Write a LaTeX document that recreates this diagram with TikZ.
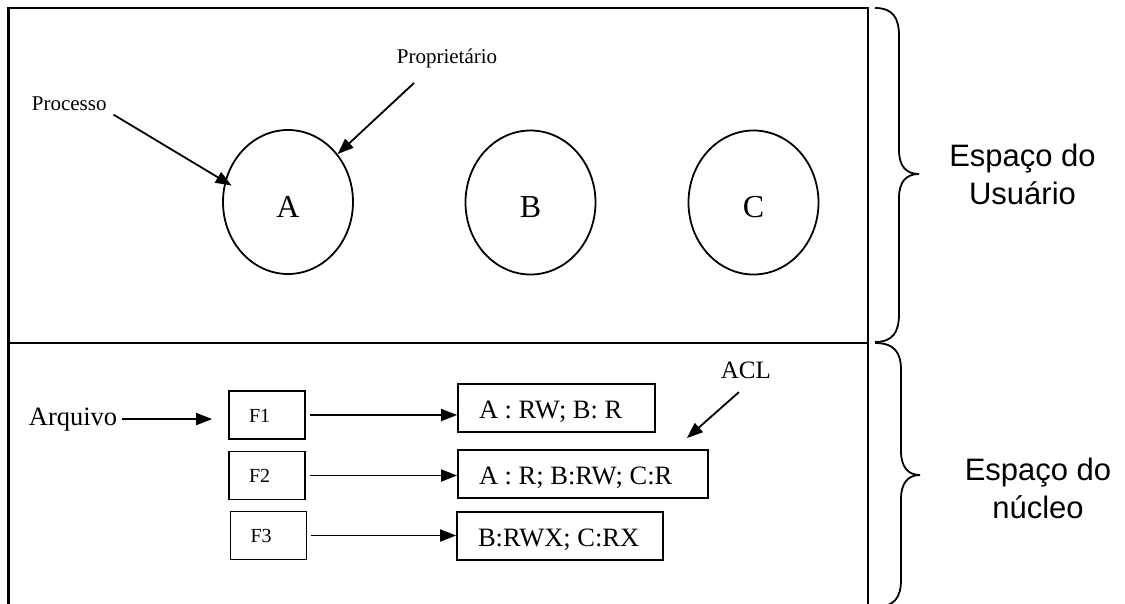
\documentclass[tikz,border=0pt]{standalone}
\usepackage{fontspec}
\setmainfont{Liberation Serif}
\newfontfamily\arialfont{Liberation Sans}
\usetikzlibrary{arrows.meta,shapes.geometric}
\begin{document}
\begin{tikzpicture}[x=1pt,y=-1pt,
  line width=1.8pt,
  arr/.style={-{Triangle[length=16pt,width=12pt]}, line width=1.8pt},
  proc/.style={ellipse, draw, minimum width=130pt, minimum height=144pt, inner sep=0pt},
  procletter/.style={font=\fontsize{32}{38}\selectfont, yshift=-5pt, inner sep=0pt},
  smalltxt/.style={font=\fontsize{21}{25}\selectfont, inner sep=0pt},
  fbox/.style={draw, minimum width=76pt, minimum height=48pt, inner sep=0pt, text height=14pt, text depth=0pt, font=\fontsize{20}{24}\selectfont},
  aclbox/.style={draw, minimum height=48pt, inner sep=0pt, text height=20pt, text depth=0pt, font=\fontsize{26.5}{30}\selectfont},
  bigtxt/.style={font=\fontsize{26.5}{30}\selectfont, inner sep=0pt},
  spacelbl/.style={font=\arialfont\fontsize{31}{38}\selectfont, align=center, inner sep=0pt}
]
\useasboundingbox (0,0) rectangle (1125,604);
% frame
\draw (8,8) -- (868,8) -- (868,604);
\draw[line width=3pt] (8,604) -- (8,7.1);
\draw (8,343) -- (868,343);
% processes
\node[proc, label={[procletter]center:A}] (A) at (288,202) {};
\node[proc, label={[procletter]center:B}] (B) at (530.5,202.5) {};
\node[proc, label={[procletter]center:C}] (C) at (753.5,202.5) {};
\node[smalltxt, anchor=base west] (proc) at (31,111) {Processo};
\node[smalltxt, anchor=base west] (prop) at (396,64) {Proprietário};
\draw[arr, shorten <=7pt, shorten >=-8pt] (proc.base east) -- (A.162);
\draw[arr] ([xshift=18pt,yshift=-19pt]prop.base west) -- (A.44);
% files
\node[bigtxt, anchor=base west] (arq) at (28,425) {Arquivo};
\node[fbox] (F1) at (267,415) {\makebox[76pt][l]{\hspace{20pt}F1}};
\node[fbox] (F2) at (267,475.5) {\makebox[76pt][l]{\hspace{20pt}F2}};
\node[fbox] (F3) at (268.5,535.5) {\makebox[76pt][l]{\hspace{20pt}F3}};
\node[aclbox, minimum width=197pt] (L1) at (556.5,408) {\makebox[197pt][l]{\hspace{21pt}A : RW; B: R}};
\node[aclbox, minimum width=250pt] (L2) at (583,474) {\makebox[250pt][l]{\hspace{21pt}A : R; B:RW; C:R}};
\node[aclbox, minimum width=206pt] (L3) at (560,536) {\makebox[206pt][l]{\hspace{21pt}B:RWX; C:RX}};
\draw[arr, shorten <=4pt, shorten >=16pt] (arq.east) -- (arq.east -| F1.west);
\draw[arr, shorten <=4pt] (F1.east) -- (F1.east -| L1.west);
\draw[arr, shorten <=4pt] (F2.east) -- (F2.east -| L2.west);
\draw[arr, shorten <=4pt] (F3.east) -- (F3.east -| L3.west);
\node[bigtxt, font=\fontsize{25}{30}\selectfont, anchor=base west] (acl) at (720,378) {ACL};
\draw[arr] ([xshift=-7pt,yshift=-13pt]acl.south) -- ([xshift=-22pt,yshift=11pt]L2.north east);
% braces
\draw (875,8) .. controls (893,8) and (899,18) .. (899,36) -- (899,150)
  .. controls (899,166) and (906,174) .. (919,174)
  .. controls (906,174) and (899,182) .. (899,198) -- (899,314)
  .. controls (899,332) and (893,342) .. (875,342);
\draw (875,343) .. controls (894,343) and (901,352) .. (901,370) -- (901,451)
  .. controls (901,467) and (908,475) .. (920,475)
  .. controls (908,475) and (901,483) .. (901,499) -- (901,580)
  .. controls (901,598) and (894,607) .. (875,607);
\node[spacelbl] (us) at (1022.5,174) {Espaço do\\Usuário};
\node[spacelbl] (nu) at (1038,488) {Espaço do\\núcleo};
\end{tikzpicture}
\end{document}
